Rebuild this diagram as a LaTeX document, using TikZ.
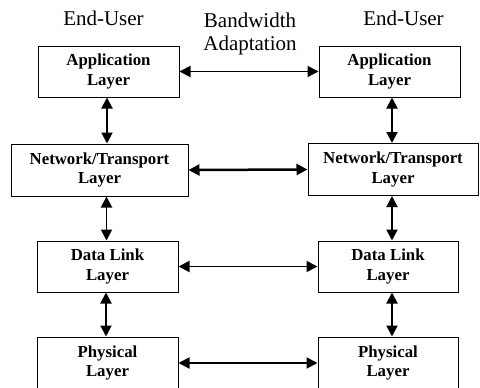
\documentclass[tikz,border=0pt]{standalone}
\usepackage{fontspec}
\setmainfont{Liberation Serif}
\usetikzlibrary{arrows.meta,calc}
\begin{document}
\begin{tikzpicture}[x=1pt,y=-1pt,
  layerbox/.style={draw=black,line width=1pt,minimum height=51pt,inner sep=0pt,
    align=center,font=\fontsize{16.8}{19.5}\selectfont\bfseries},
  lbl/.style={inner sep=0pt,font=\fontsize{21}{23}\selectfont,align=center},
  biarrow/.style={line width=1.9pt,{Triangle[length=11pt,width=11pt]}-{Triangle[length=11pt,width=11pt]}},
  thickarrow/.style={biarrow,line width=2.5pt}]
\useasboundingbox (0,0) rectangle (480,388);
\node[layerbox,minimum width=141pt] (appL) at (108.5,71.5) {Application\\Layer};
\node[layerbox,minimum width=141pt] (appR) at (389.5,71.5) {Application\\Layer};
\node[layerbox,minimum width=177pt,minimum height=52pt] (netL) at (99.5,170) {Network/Transport\\Layer};
\node[layerbox,minimum width=170pt,minimum height=52pt] (netR) at (393,169.5) {Network/Transport\\Layer};
\node[layerbox,minimum width=141pt] (dlL) at (107.5,266.5) {Data Link\\Layer};
\node[layerbox,minimum width=140pt] (dlR) at (388,266.5) {Data Link\\Layer};
\node[layerbox,minimum width=141pt,minimum height=52pt] (phL) at (107.5,363) {Physical\\Layer};
\node[layerbox,minimum width=140pt,minimum height=52pt] (phR) at (388,363) {Physical\\Layer};
\node[lbl,anchor=base] (euL) at (103.5,26) {End-User};
\node[lbl,anchor=base] (euR) at (403.5,26) {End-User};
\node[lbl,anchor=north] (bw) at (250,13) {Bandwidth\\Adaptation};
% horizontal
\draw[biarrow] (appL.east) -- (appR.west);
\draw[thickarrow] (netL.east) -- (netR.west);
\draw[biarrow] (dlL.east) -- (dlR.west);
\draw[biarrow] (phL.east) -- (phR.west);
% vertical
\draw[biarrow] ($(appL.south)+(-1.5,0)$) -- ($(appL.south |- netL.north)+(-1.5,0)$);
\draw[biarrow] ($(appR.south)+(2.5,0)$) -- ($(appR.south |- netR.north)+(2.5,0)$);
\draw[biarrow] ($(dlL.north |- netL.south)+(-1,0)$) -- ($(dlL.north)+(-1,0)$);
\draw[biarrow] ($(dlR.north |- netR.south)+(4,0)$) -- ($(dlR.north)+(4,0)$);
\draw[biarrow] ($(dlL.south)+(-1.5,0)$) -- ($(phL.north)+(-1.5,0)$);
\draw[biarrow] ($(dlR.south)+(4,0)$) -- ($(phR.north)+(4,0)$);
\end{tikzpicture}
\end{document}
